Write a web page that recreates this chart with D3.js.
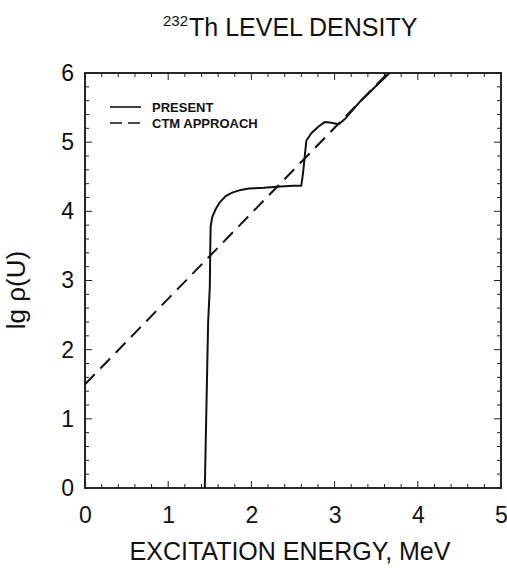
<!DOCTYPE html>
<html><head><meta charset="utf-8">
<script src="https://cdn.jsdelivr.net/npm/d3@7"></script>
<style>
html,body{margin:0;padding:0;background:#fff;}
text{font-family:"Liberation Sans",Arial,sans-serif;fill:#111;}
</style></head>
<body>
<svg id="c" width="507" height="570"></svg>
<script>
// Data
const xDomain = [0, 5];
const yDomain = [0, 6];
const xTicks = [0, 1, 2, 3, 4, 5];
const yTicks = [0, 1, 2, 3, 4, 5, 6];
const presentE  = [1.44, 1.46, 1.48, 1.50, 1.505, 1.51, 1.53, 1.57, 1.62, 1.69, 1.77, 1.87, 1.97, 2.15, 2.35, 2.50, 2.60, 2.62, 2.64, 2.66, 2.72, 2.80, 2.88, 2.96, 3.05, 3.12, 3.30, 3.66];
const presentLg = [0.00, 1.20, 2.40, 2.90, 3.40, 3.78, 3.92, 4.03, 4.13, 4.22, 4.27, 4.31, 4.33, 4.34, 4.36, 4.37, 4.37, 4.55, 4.78, 5.02, 5.13, 5.22, 5.29, 5.28, 5.26, 5.33, 5.58, 6.00];
const ctmE  = [0, 3.64];
const ctmLg = [1.5, 6.0];
const legendLabels = ["PRESENT", "CTM APPROACH"];

const svg = d3.select("#c");
const L = 85, R = 501, T = 73, B = 488;
const x = d3.scaleLinear().domain(xDomain).range([L, R]);
const y = d3.scaleLinear().domain(yDomain).range([B, T]);

// frame
svg.append("rect").attr("x", L).attr("y", T).attr("width", R - L).attr("height", B - T)
  .attr("fill", "none").attr("stroke", "#111").attr("stroke-width", 1.8);

// ticks (inside) on all four sides
const xMinor = d3.range(0, 5.0001, 0.2);
const yMinor = d3.range(0, 6.0001, 0.2);
function isMajor(v){ return Math.abs(v - Math.round(v)) < 1e-6; }
const tg = svg.append("g").attr("stroke", "#222").attr("stroke-width", 1);
xMinor.forEach(v => {
  const len = isMajor(v) ? 7 : 4;
  tg.append("line").attr("x1", x(v)).attr("x2", x(v)).attr("y1", B).attr("y2", B - len);
  tg.append("line").attr("x1", x(v)).attr("x2", x(v)).attr("y1", T).attr("y2", T + len);
});
yMinor.forEach(v => {
  const len = isMajor(v) ? 7 : 4;
  tg.append("line").attr("y1", y(v)).attr("y2", y(v)).attr("x1", L).attr("x2", L + len);
  tg.append("line").attr("y1", y(v)).attr("y2", y(v)).attr("x1", R).attr("x2", R - len);
});

// axes labels via d3 axes (no domain/ticks lines)
const xAxis = svg.append("g").attr("transform", `translate(0,${B})`)
  .call(d3.axisBottom(x).tickValues(xTicks).tickFormat(d3.format("d")).tickSize(0).tickPadding(19));
const yAxis = svg.append("g").attr("transform", `translate(${L},0)`)
  .call(d3.axisLeft(y).tickValues(yTicks).tickFormat(d3.format("d")).tickSize(0).tickPadding(11));
[xAxis, yAxis].forEach(a => {
  a.select(".domain").remove();
  a.selectAll("text").style("font-size", "23px").style("font-family", '"Liberation Sans",Arial,sans-serif').attr("fill", "#111");
});

// lines
const line = d3.line().x(d => x(d[0])).y(d => y(d[1]));
const present = presentE.map((e, i) => [e, presentLg[i]]);
const ctm = ctmE.map((e, i) => [e, ctmLg[i]]);
svg.append("path").attr("d", line(ctm)).attr("fill", "none").attr("stroke", "#111")
  .attr("stroke-width", 2).attr("stroke-dasharray", "14,8");
svg.append("path").attr("d", line(present)).attr("fill", "none").attr("stroke", "#111")
  .attr("stroke-width", 2).attr("stroke-linejoin", "round");

// legend
const lg = svg.append("g");
lg.append("line").attr("x1", 110).attr("x2", 141).attr("y1", 107).attr("y2", 107).attr("stroke", "#111").attr("stroke-width", 1.6);
lg.append("line").attr("x1", 110).attr("x2", 141).attr("y1", 123).attr("y2", 123).attr("stroke", "#111").attr("stroke-width", 1.6).attr("stroke-dasharray", "12,6");
lg.selectAll("text.leg").data(legendLabels).enter().append("text").attr("class", "leg")
  .attr("x", 152).attr("y", (d, i) => 112 + i * 16).text(d => d)
  .style("font-size", "13px").style("font-weight", "bold");

// title
const title = svg.append("text").attr("x", 163).attr("y", 36).style("font-size", "25px");
title.append("tspan").text("232").style("font-size", "15px").attr("dy", -10);
title.append("tspan").text("Th LEVEL DENSITY").attr("dy", 10).attr("dx", 1);

// axis titles
svg.append("text").attr("x", 290).attr("y", 560).attr("text-anchor", "middle")
  .style("font-size", "25px").text("EXCITATION ENERGY, MeV");
svg.append("text").attr("transform", "translate(25,290) rotate(-90)").attr("text-anchor", "middle")
  .style("font-size", "26px").text("lg ρ(U)");
</script>
</body></html>
